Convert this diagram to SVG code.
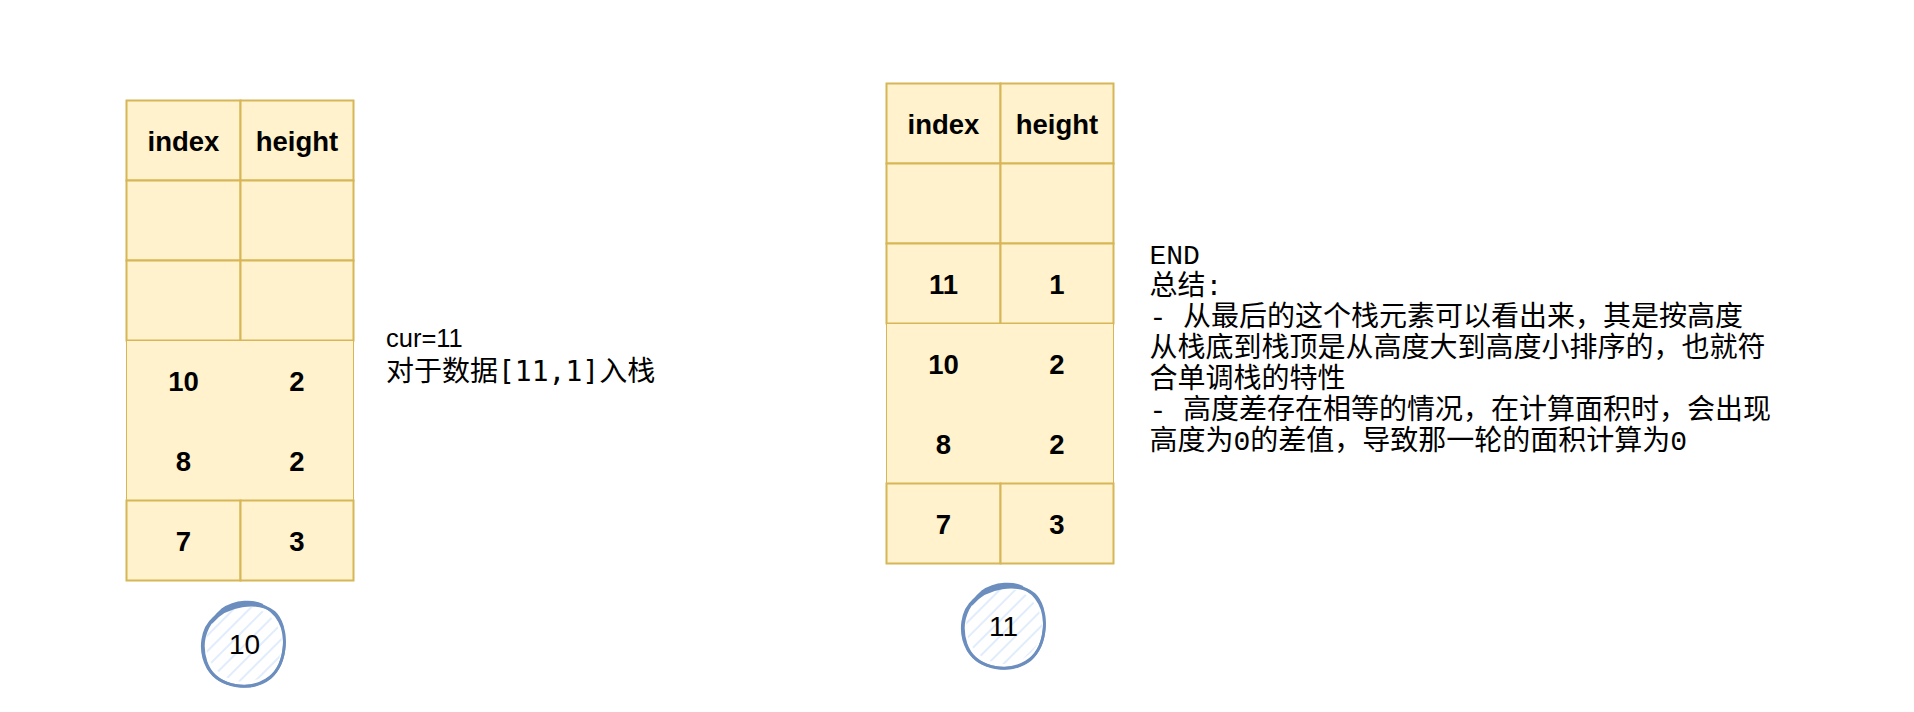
<svg xmlns="http://www.w3.org/2000/svg" width="1914" height="712" viewBox="0 0 1914 712">
  <style>
    .cell { fill: #fff2cc; stroke: #d6b656; stroke-width: 2; }
    .merged { fill: #fff2cc; stroke: #d6b656; stroke-width: 1; }
    .ct { font-family: "Liberation Sans", Arial, sans-serif; font-weight: bold; font-size: 27.5px; fill: #000; text-anchor: middle; }
    .circ-line { fill: none; stroke: #6c8ebf; stroke-width: 2.8; stroke-linecap: round; }
    .circ-text { font-family: "Liberation Sans", Arial, sans-serif; font-size: 28px; fill: #000; text-anchor: middle; }
    .note { font-family: "Liberation Sans", Arial, "Noto Sans CJK SC", sans-serif; font-size: 28px; fill: #000; }
    .mono { font-family: "DejaVu Sans Mono", monospace; }
    .note2 { font-family: "Liberation Mono", "Noto Sans CJK SC", monospace; font-size: 28px; fill: #000; }
  </style>
  <defs>
    <pattern id="hachure" width="11" height="11" patternUnits="userSpaceOnUse" patternTransform="rotate(45)">
      <line x1="2" y1="0" x2="2" y2="11" stroke="#dae8fc" stroke-width="1.6"/>
    </pattern>
  </defs>
  <rect width="1914" height="712" fill="#ffffff"/>

  <g id="connectors"/>

  <g id="stack-left">
    <rect class="cell" x="126.5" y="100.5" width="114" height="80"/>
    <rect class="cell" x="240.5" y="100.5" width="113" height="80"/>
    <rect class="cell" x="126.5" y="180.5" width="114" height="80"/>
    <rect class="cell" x="240.5" y="180.5" width="113" height="80"/>
    <rect class="cell" x="126.5" y="260.5" width="114" height="80"/>
    <rect class="cell" x="240.5" y="260.5" width="113" height="80"/>
    <rect class="merged" x="126.5" y="340.5" width="227" height="160"/>
    <rect class="cell" x="126.5" y="500.5" width="114" height="80"/>
    <rect class="cell" x="240.5" y="500.5" width="113" height="80"/>
    <text class="ct" x="183.5" y="150.5">index</text>
    <text class="ct" x="297" y="150.5">height</text>
    <text class="ct" x="183.5" y="390.5">10</text>
    <text class="ct" x="297" y="390.5">2</text>
    <text class="ct" x="183.5" y="470.5">8</text>
    <text class="ct" x="297" y="470.5">2</text>
    <text class="ct" x="183.5" y="550.5">7</text>
    <text class="ct" x="297" y="550.5">3</text>
  </g>

  <g id="stack-right">
    <rect class="cell" x="886.5" y="83.5" width="114" height="80"/>
    <rect class="cell" x="1000.5" y="83.5" width="113" height="80"/>
    <rect class="cell" x="886.5" y="163.5" width="114" height="80"/>
    <rect class="cell" x="1000.5" y="163.5" width="113" height="80"/>
    <rect class="cell" x="886.5" y="243.5" width="114" height="80"/>
    <rect class="cell" x="1000.5" y="243.5" width="113" height="80"/>
    <rect class="merged" x="886.5" y="323.5" width="227" height="160"/>
    <rect class="cell" x="886.5" y="483.5" width="114" height="80"/>
    <rect class="cell" x="1000.5" y="483.5" width="113" height="80"/>
    <text class="ct" x="943.5" y="133.5">index</text>
    <text class="ct" x="1057" y="133.5">height</text>
    <text class="ct" x="943.5" y="293.5">11</text>
    <text class="ct" x="1057" y="293.5">1</text>
    <text class="ct" x="943.5" y="373.5">10</text>
    <text class="ct" x="1057" y="373.5">2</text>
    <text class="ct" x="943.5" y="453.5">8</text>
    <text class="ct" x="1057" y="453.5">2</text>
    <text class="ct" x="943.5" y="533.5">7</text>
    <text class="ct" x="1057" y="533.5">3</text>
  </g>

  <g id="step-10">
    <circle cx="244" cy="644" r="38" fill="url(#hachure)"/>
    <path class="circ-line" d="M 216 616 C 232 600, 262 598, 276 616 C 290 634, 286 668, 266 680 C 246 692, 214 686, 206 662 C 199 641, 206 624, 222 610 C 236 600, 254 601, 262 605"/>
    <path class="circ-line" d="M 212 622 C 226 604, 258 600, 274 612 C 289 626, 288 662, 270 678 C 252 692, 220 688, 208 668 C 198 650, 202 628, 214 618"/>
    <text class="circ-text" x="244.5" y="654">10</text>
  </g>

  <g id="step-11">
    <circle cx="1004" cy="626" r="38" fill="url(#hachure)"/>
    <path class="circ-line" d="M 976 598 C 992 582, 1022 580, 1036 598 C 1050 616, 1046 650, 1026 662 C 1006 674, 974 668, 966 644 C 959 623, 966 606, 982 592 C 996 582, 1014 583, 1022 587"/>
    <path class="circ-line" d="M 972 604 C 986 586, 1018 582, 1034 594 C 1049 608, 1048 644, 1030 660 C 1012 674, 980 670, 968 650 C 958 632, 962 610, 974 600"/>
    <text class="circ-text" x="1003.5" y="636">11</text>
  </g>

  <g id="note-left">
    <text class="note" x="386" y="347" style="font-size:25.5px">cur=11</text>
    <text class="note" x="386" y="381">对于数据<tspan class="mono">[11,1]</tspan>入栈</text>
  </g>

  <g id="note-right">
    <text class="note2" x="1149.5" y="263.5">END</text>
    <text class="note2" x="1149.5" y="294.5">总结:</text>
    <text class="note2" x="1149.5" y="325.5">- 从最后的这个栈元素可以看出来，其是按高度</text>
    <text class="note2" x="1149.5" y="356.5">从栈底到栈顶是从高度大到高度小排序的，也就符</text>
    <text class="note2" x="1149.5" y="387.5">合单调栈的特性</text>
    <text class="note2" x="1149.5" y="418.5">- 高度差存在相等的情况，在计算面积时，会出现</text>
    <text class="note2" x="1149.5" y="449.5">高度为0的差值，导致那一轮的面积计算为0</text>
  </g>
</svg>
